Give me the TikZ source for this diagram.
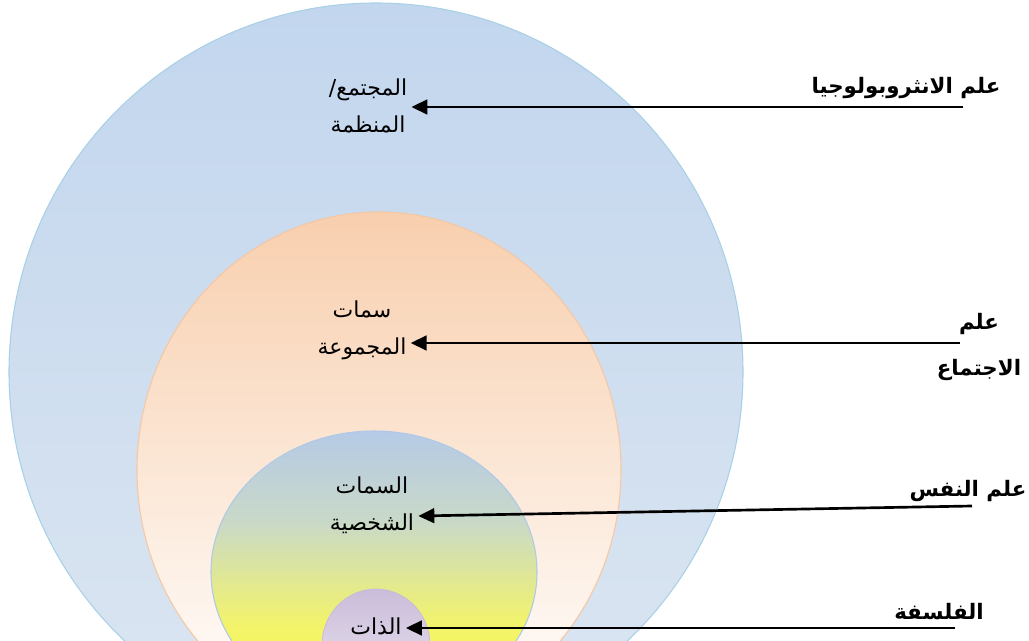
\documentclass[tikz,border=0pt]{standalone}
\usepackage{fontspec}
\usetikzlibrary{arrows.meta}
\TeXXeTstate=1
\newfontfamily\arabicfont[Script=Arabic]{DejaVu Sans}

\definecolor{blueTop}{HTML}{C2D6EE}
\definecolor{blueBot}{HTML}{DCE6F1}
\definecolor{blueEdge}{HTML}{A8D0E6}
\definecolor{orTop}{HTML}{F8CFAE}
\definecolor{orBot}{HTML}{FFFFFF}
\definecolor{orEdge}{HTML}{F5C7A2}
\definecolor{inTop}{HTML}{B5CAE6}
\definecolor{inMid}{HTML}{C9D9C8}
\definecolor{inYel}{HTML}{F2F36C}
\definecolor{inBot}{HTML}{F8F850}
\definecolor{inEdge}{HTML}{AFC9E6}
\definecolor{puTop}{HTML}{C9BCD9}
\definecolor{puBot}{HTML}{EEE8F2}

% blue at the top fading to yellow towards the bottom
\pgfdeclareverticalshading{selfshade}{100bp}{%
  color(0bp)=(inBot); color(30bp)=(inBot); color(41bp)=(inYel);
  color(59bp)=(inMid); color(75bp)=(inTop); color(100bp)=(inTop)}

\begin{document}
\begin{tikzpicture}[x=0.75pt,y=-0.75pt,
  inlabel/.style={font=\arabicfont\fontsize{16.5}{28}\selectfont,
    align=center, inner sep=3pt},
  sidelabel/.style={font=\arabicfont\bfseries\fontsize{16}{35}\selectfont,
    align=center, inner sep=0pt},
  pointer/.style={line width=2pt, -{Triangle[length=12pt,width=11pt]}}]
\useasboundingbox (0,0) rectangle (1029,641);

% nested ellipses, cut off at the lower edge
\begin{scope}
  \clip (0,0) rectangle (1029,641);
  \path[draw=blueEdge, line width=0.8pt, top color=blueTop, bottom color=blueBot]
    (376,372) ellipse [x radius=367, y radius=369];
  \path[draw=orEdge, line width=0.8pt, top color=orTop, bottom color=orBot]
    (379,470) ellipse [x radius=242, y radius=258];
  \path[draw=inEdge, line width=0.8pt, shading=selfshade]
    (374,572) ellipse [x radius=163, y radius=141];
  \path[draw=puTop, line width=0.6pt, top color=puTop, bottom color=puBot]
    (376,645) ellipse [x radius=54, y radius=56];
\end{scope}

% labels inside the ellipses
\node[inlabel] (org)  at (368,106) {\beginR المجتمع/\endR\\\beginR المنظمة\endR};
\node[inlabel] (grp)  at (362,330) {\beginR سمات\endR\\\beginR المجموعة\endR};
\node[inlabel] (pers) at (372,505) {\beginR السمات\endR\\\beginR الشخصية\endR};
\node[inlabel] (self) at (376,626) {\beginR الذات\endR};

% disciplines on the right
\node[sidelabel] (anthro) at (906,88)  {\beginR علم الانثروبولوجيا\endR};
\node[sidelabel] (socio)  at (979,347) {\beginR علم\endR\\\beginR الاجتماع\endR};
\node[sidelabel] (psych)  at (968,491) {\beginR علم النفس\endR};
\node[sidelabel] (philo)  at (939,612) {\beginR الفلسفة\endR};

% start points of the pointers, under each discipline
\coordinate (anthroS) at (963,107);
\coordinate (socioS)  at (960,343);
\coordinate (psychS)  at (972,506);
\coordinate (philoS)  at (955,628);

\draw[pointer] (anthroS) -- (org.east |- anthroS);
\draw[pointer] (socioS)  -- (grp.east |- socioS);
\draw[pointer] (psychS)  -- (pers.east |- 0,516);
\draw[pointer] (philoS)  -- (self.east |- philoS);
\end{tikzpicture}
\end{document}
